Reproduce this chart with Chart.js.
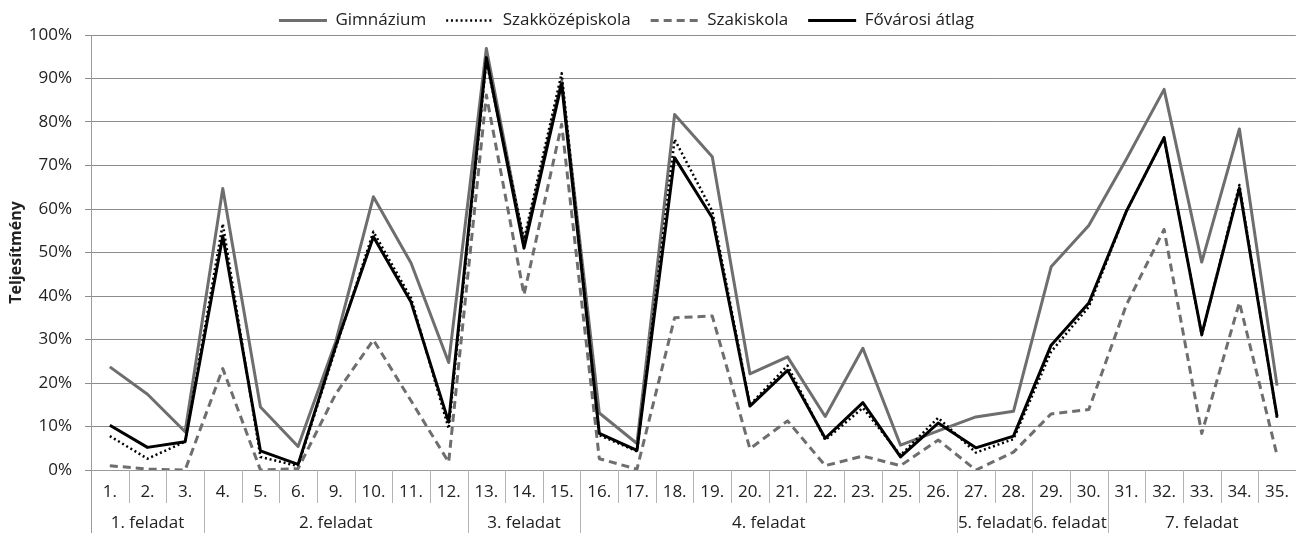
<!DOCTYPE html>
<html>
<head>
<meta charset="utf-8">
<script src="https://cdn.jsdelivr.net/npm/chart.js@4/dist/chart.umd.min.js"></script>
<style>
  html, body { margin: 0; padding: 0; background: #fff; }
</style>
</head>
<body>
<canvas id="chart" width="1301" height="533"></canvas>
<script>
// feladat sorszámok (kategóriák)
const labels = ['1.', '2.', '3.', '4.', '5.', '6.', '9.', '10.', '11.', '12.', '13.', '14.', '15.',
    '16.', '17.', '18.', '19.', '20.', '21.', '22.', '23.', '25.', '26.', '27.', '28.', '29.', '30.',
    '31.', '32.', '33.', '34.', '35.'];

// csoportok az x tengely második sorában
const groupNames = ['1. feladat', '2. feladat', '3. feladat', '4. feladat', '5. feladat', '6. feladat', '7. feladat'];
const groupSizes = [3, 7, 3, 10, 2, 2, 5];

// teljesítmény (%)
const gimnazium = [23.7, 17.4, 8.8, 64.7, 14.5, 5.4, 29.5, 62.8, 47.6, 24.7, 96.9, 52, 89.5,
    13.1, 6.1, 81.7, 72, 22.1, 26, 12.3, 28, 5.7, 9, 12.2, 13.5, 46.7, 56.2, 71.5, 87.5, 47.8, 78.4, 19.4];
const szakkozep = [7.8, 2.6, 6.5, 56.6, 3.0, 0.9, 28, 54.8, 39.5, 9.5, 94, 53, 91.2,
    8, 4.3, 76, 59.5, 15, 24, 6.9, 14.3, 3.4, 12, 4, 7.1, 27.2, 37.5, 59.5, 76.4, 31, 65.5, 12];
const szakiskola = [1.0, 0.2, 0, 23.3, 0, 0.3, 17.5, 29.9, 15.9, 1.8, 86.2, 40.3, 79.5,
    2.6, 0.2, 35, 35.4, 4.9, 11.3, 1.0, 3.2, 1.0, 6.9, 0, 4.1, 12.9, 13.9, 38, 55.3, 8.4, 38.5, 3.4];
const atlag = [10.3, 5.2, 6.5, 53.8, 4.4, 1.3, 28.5, 53.6, 38.6, 11, 94.8, 51, 88.8,
    8.4, 4.5, 71.8, 58, 14.7, 22.9, 7.3, 15.5, 3.0, 10.8, 5.1, 7.8, 28.7, 38.4, 59.5, 76.4, 31.2, 64.8, 12.3];

Chart.defaults.font.family = 'Open Sans';
Chart.defaults.font.size = 17;
Chart.defaults.color = '#222';

// x tengely: elválasztók + csoportfeliratok
const groupAxis = {
    id: 'groupAxis',
    afterUpdate(chart) {
        // jelmagyarázat helyének igazítása
        const legend = chart.legend;
        legend.left -= 24;
        legend.right -= 24;
        legend.top -= 8;
        legend.adjustHitBoxes();
    },
    afterDraw(chart) {
        const {ctx, chartArea} = chart;
        const x = chart.scales.x;
        const half = (x.getPixelForValue(1) - x.getPixelForValue(0)) / 2;
        const top = chartArea.bottom;
        const line = (px, y1, y2) => {
            ctx.beginPath();
            ctx.moveTo(px, y1);
            ctx.lineTo(px, y2);
            ctx.stroke();
        };
        ctx.save();
        ctx.strokeStyle = '#b4b4b4';
        ctx.lineWidth = 1;
        for (let i = 1; i < labels.length; i++) {
            line(Math.round(x.getPixelForValue(i) - half) + 0.5, top, top + 33);
        }
        ctx.fillStyle = '#222';
        ctx.font = '17px "Open Sans"';
        ctx.textAlign = 'center';
        ctx.textBaseline = 'middle';
        let start = 0;
        groupNames.forEach((name, g) => {
            const end = start + groupSizes[g] - 1;
            const left = x.getPixelForValue(start) - half;
            const right = x.getPixelForValue(end) + half;
            if (g > 0) line(Math.round(left) + 0.5, top, chart.height);
            ctx.fillText(name, (left + right) / 2, 523);
            start = end + 1;
        });
        ctx.strokeStyle = '#9a9a9a';
        line(Math.round(chartArea.left) + 0.5, top, chart.height);
        ctx.restore();
    }
};

new Chart(document.getElementById('chart'), {
    type: 'line',
    data: {
        labels: labels,
        datasets: [
            { label: 'Gimnázium', data: gimnazium, borderColor: '#6e6e6e', borderWidth: 3, order: 4 },
            { label: 'Szakközépiskola', data: szakkozep, borderColor: '#000', borderWidth: 2.5, borderDash: [2, 2.8], order: 3 },
            { label: 'Szakiskola', data: szakiskola, borderColor: '#6e6e6e', borderWidth: 3, borderDash: [8, 5], order: 2 },
            { label: 'Fővárosi átlag', data: atlag, borderColor: '#000', borderWidth: 3, order: 1 }
        ]
    },
    options: {
        responsive: false,
        animation: false,
        devicePixelRatio: 1,
        layout: { padding: { top: 0, left: 0, right: 0, bottom: 0 } },
        elements: {
            line: { tension: 0, fill: false, borderJoinStyle: 'round' },
            point: { radius: 0, pointStyle: 'line' }
        },
        scales: {
            x: {
                offset: true,
                grid: { display: true, offset: true, drawOnChartArea: false, drawTicks: false },
                border: { color: '#9a9a9a' },
                ticks: { padding: 12, maxRotation: 0, autoSkip: false },
                afterFit: s => { s.height = 63; }
            },
            y: {
                min: 0,
                max: 100,
                grid: { color: '#8c8c8c', tickLength: 6 },
                border: { color: '#9a9a9a' },
                ticks: { stepSize: 10, padding: 13, callback: v => v + '%' },
                title: { display: true, text: 'Teljesítmény', font: { weight: 'bold', size: 16 }, padding: { top: 7, bottom: 0 } },
                afterFit: s => { s.width = 91; }
            }
        },
        plugins: {
            legend: {
                position: 'top',
                maxHeight: 35,
                labels: {
                    usePointStyle: true,
                    pointStyle: 'line',
                    pointStyleWidth: 48,
                    padding: 20,
                    sort: (a, b) => a.datasetIndex - b.datasetIndex,
                    generateLabels: chart => Chart.defaults.plugins.legend.labels.generateLabels(chart).map(item => {
                        const ds = chart.data.datasets[item.datasetIndex];
                        item.lineDash = ds.borderDash || [];
                        item.lineWidth = ds.borderWidth;
                        item.strokeStyle = ds.borderColor;
                        return item;
                    })
                }
            },
            tooltip: { enabled: false }
        }
    },
    plugins: [groupAxis]
});
</script>
</body>
</html>
